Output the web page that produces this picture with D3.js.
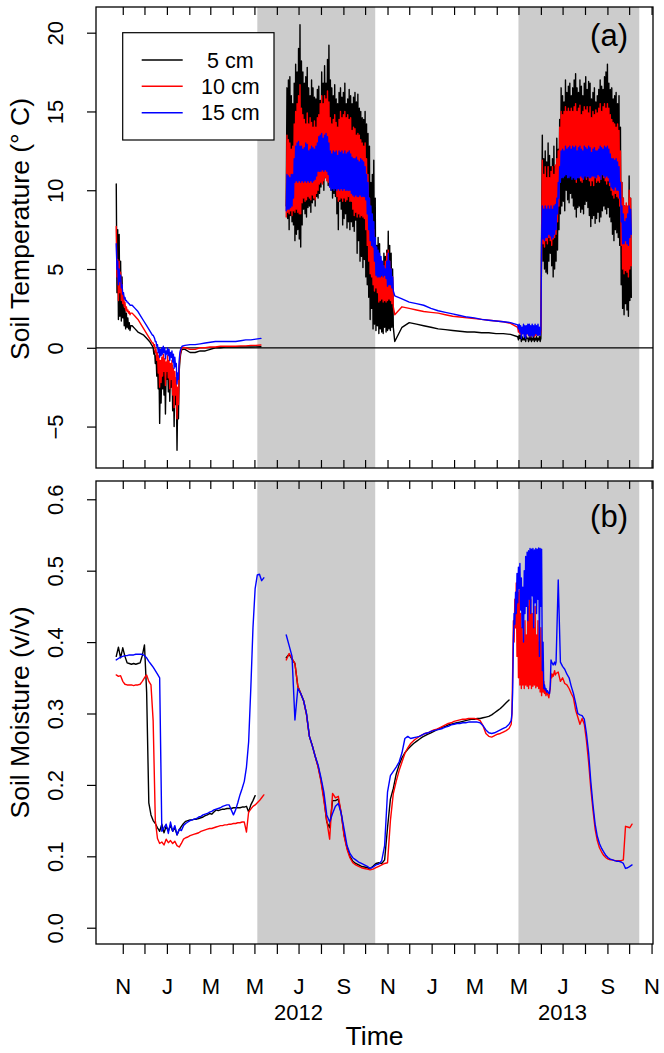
<!DOCTYPE html>
<html><head><meta charset="utf-8">
<script src="https://cdn.jsdelivr.net/npm/d3@7"></script>
<style>
html,body{margin:0;padding:0;background:#fff;}
svg{display:block;}
text{font-family:"Liberation Sans",Arial,Helvetica,sans-serif;fill:#000;}
</style></head><body>
<svg id="chart" width="664" height="1053"></svg>
<script>
// ---------------- DATA ----------------
const seriesLabels = [" 5 cm", "10 cm", "15 cm"];
const seriesColors = ["#000000", "#ff0000", "#0000ff"];
const shadeStart = ["2012-05-05", "2013-05-01"];
const shadeEnd = ["2012-10-15", "2013-10-15"];
const tempTicks = [-5, 0, 5, 10, 15, 20];
const moistTicks = [0, 0.1, 0.2, 0.3, 0.4, 0.5, 0.6];
const monthTickFirst = "2011-11-01";
const monthTickLast = "2013-11-01";
const yearLabels = ["2012", "2013"];
const yearLabelDates = ["2012-07-01", "2013-07-01"];

// Temperature: segment start dates and sampling step (days); line break before segment 4
const tempSegStart = ["2011-10-23", "2011-11-14", "2011-12-13", "2012-01-26", "2012-06-14", "2012-11-11", "2013-05-01"];
const tempSegStep = [1, 4, 1, 7, 1, 10, 1];
const tempBreakBefore = [4];

const temp5 = [
  [10.4,3.5,7.5,1.8,7.2,2.0,5.5,1.7,4.5,1.9,3.2,1.4,2.5,1.2,2.2,1.3,1.9,1.2,1.6,1.1,1.4],
  [1.4,1.2,1.0,0.9,0.8,0.6,0.4,0.1],
  [0.0,-0.4,-0.2,-1.0,-0.5,-1.8,-0.8,-2.6,-1.0,-4.8,-1.5,-3.5,-1.2,-2.6,-0.9,-3.0,-1.0,-4.2,-1.3,-2.0,-0.8,-2.8,-1.2,-3.4,-1.6,-2.5,-1.1,-4.0,-1.8,-5.0,-2.0,-3.6,-2.4,-6.5,-3.0,-4.5,-1.5,-0.8,-0.4,-0.2,-0.1],
  [-0.1,-0.3,-0.3,-0.2,-0.2,-0.1,0.0,0.0,0.05,0.05,0.05,0.05,0.05,0.05,0.06,0.07],
  [9.0,16.5,8.2,17.0,7.5,17.2,8.4,16.0,8.0,15.5,
   7.8,16.8,6.8,18.0,7.2,17.5,7.5,19.0,6.9,20.5,
   6.4,18.2,7.8,17.5,8.8,16.8,8.5,17.2,8.3,17.8,
   8.9,16.5,9.0,16.0,8.6,17.0,9.2,16.5,9.4,15.9,
   9.0,15.8,9.6,16.4,9.5,16.6,9.8,15.7,10.2,17.5,
   10.5,16.8,10.0,17.9,10.8,16.8,11.0,18.3,10.3,19.2,
   10.3,17.0,10.0,16.5,9.5,16.0,9.8,16.7,9.6,15.8,
   8.5,15.5,7.5,16.2,9.3,16.5,8.8,15.9,7.8,16.2,
   8.2,16.8,8.5,15.5,7.6,15.8,8.0,16.4,7.5,16.0,
   8.0,15.5,7.7,15.9,7.4,16.2,8.1,15.6,6.0,16.1,
   6.8,15.2,5.5,15.0,5.8,14.6,5.1,14.5,5.6,15.0,
   4.5,14.2,4.0,13.6,3.2,12.8,1.8,10.5,2.5,11.0,
   1.2,11.9,1.5,9.5,1.1,6.5,1.4,7.0,0.9,6.6,
   1.2,5.5,1.0,5.0,0.9,6.0,1.3,5.8,1.0,6.2,
   1.1,7.4,1.2,6.5,1.1,6.0,1.3,5.0,1.3],
  [0.4,1.3,1.6,1.5,1.4,1.3,1.2,1.15,1.1,1.05,1.0,1.0,0.95,0.95,0.9,0.9,0.85,0.7],
  [0.5,0.8,0.6,0.8,0.4,0.7,0.5,0.6,0.5,0.8,
   0.4,0.7,0.6,0.6,0.4,0.7,0.5,0.8,0.4,0.6,
   0.5,0.7,0.4,0.6,0.5,0.7,0.4,0.6,0.5,0.7,
   0.4,0.6,7.0,13.5,5.5,12.0,5.0,12.5,4.8,11.8,
   4.7,13.0,5.5,12.2,6.0,11.5,5.2,12.0,4.5,12.8,
   5.0,11.5,5.5,13.3,6.2,12.6,7.5,14.5,8.5,16.5,
   9.0,16.0,9.3,15.6,8.7,17.0,10.0,16.2,9.4,16.6,
   9.2,16.8,9.8,16.0,9.5,16.5,9.0,17.0,8.8,17.4,
   8.3,16.5,8.9,16.2,9.0,17.0,8.6,16.6,8.8,16.0,
   8.5,16.8,9.1,17.2,9.3,16.4,8.9,16.9,8.4,16.8,
   7.7,15.8,8.2,16.2,8.4,16.5,7.9,15.6,8.2,16.0,
   8.6,16.4,8.0,17.0,8.3,16.6,8.7,16.4,9.0,17.2,
   8.8,17.5,8.5,18.0,8.9,16.8,8.3,16.4,8.0,16.5,
   7.2,15.8,6.8,16.0,7.5,16.2,7.3,15.5,7.0,16.0,
   6.5,14.0,4.0,10.5,2.5,9.5,2.1,9.0,2.8,8.0,
   2.4,8.5,2.0,10.9,3.0,9.5,3.2]
];
const temp10 = [
  [7.7,4.5,5.6,3.0,5.5,3.5,4.8,3.0,4.0,2.8,3.3,2.6,2.9,2.4,2.6,2.3,2.4,2.2,2.3,2.1,2.2],
  [2.2,2.0,1.8,1.5,1.2,0.9,0.6,0.3],
  [0.3,0.1,0.2,-0.3,-0.1,-0.8,-0.3,-1.6,-0.5,-2.5,-0.8,-2.2,-0.6,-1.8,-0.4,-1.5,-0.7,-2.4,-0.9,-1.5,-0.5,-1.9,-0.8,-2.6,-1.0,-2.0,-0.8,-3.0,-1.3,-3.8,-1.5,-3.0,-1.9,-4.5,-2.5,-3.6,-1.2,-0.6,-0.3,-0.1,0.0],
  [0.0,-0.1,-0.1,0.0,0.0,0.05,0.05,0.1,0.1,0.1,0.1,0.12,0.12,0.15,0.15,0.18],
  [8.3,13.5,8.6,13.2,8.5,13.0,8.7,12.6,8.4,12.8,
   8.7,14.2,8.6,15.0,8.8,15.5,8.6,16.0,8.5,16.7,
   8.5,15.2,9.2,14.8,9.5,14.5,9.3,14.2,9.4,14.9,
   9.6,14.2,9.5,14.6,9.4,14.3,9.7,14.0,9.5,14.4,
   9.4,14.0,9.8,14.6,10.0,14.8,10.4,15.5,10.5,16.0,
   10.4,15.5,10.6,16.0,10.8,15.8,10.6,16.3,10.5,15.6,
   10.2,14.6,10.3,14.2,10.2,14.5,10.4,14.8,10.2,14.3,
   9.6,14.0,9.3,14.5,9.4,15.0,9.5,14.6,9.3,14.8,
   9.5,15.0,9.3,14.6,9.4,14.8,9.6,14.5,9.3,14.6,
   9.3,13.8,8.8,14.0,8.4,13.9,8.6,13.5,8.3,13.6,
   8.5,13.5,8.3,13.2,8.4,13.0,8.3,12.8,8.2,13.0,
   7.5,12.0,6.5,11.0,5.5,9.5,4.7,8.5,4.5,8.0,
   4.0,7.5,3.6,6.6,3.8,5.5,3.5,5.8,2.9,5.0,
   3.0,4.5,3.1,4.8,2.9,5.2,3.0,5.5,2.9,6.0,
   3.0,6.2,3.1,5.5,3.0,5.0,2.8,4.5,2.6],
  [2.1,2.6,2.5,2.4,2.3,2.25,2.2,2.1,2.0,1.95,1.9,1.85,1.8,1.75,1.7,1.65,1.55,1.3],
  [1.0,1.3,0.9,1.2,0.8,1.2,0.9,1.1,0.9,1.3,
   0.7,1.1,0.9,1.2,0.8,1.2,0.7,1.1,0.8,1.2,
   0.8,1.1,0.7,1.2,0.8,1.1,0.8,1.2,0.9,1.1,
   0.8,1.0,6.5,11.9,6.6,11.0,6.4,11.5,6.8,10.8,
   6.6,11.5,7.0,10.8,6.8,11.2,6.5,11.5,6.9,11.0,
   7.0,11.6,7.2,12.0,8.0,12.5,9.0,14.0,11.0,15.0,
   12.0,14.8,12.1,15.0,12.0,15.3,12.2,15.0,12.0,15.2,
   12.1,15.0,11.8,15.2,11.5,15.0,11.2,15.3,11.0,15.5,
   10.5,15.0,11.0,15.2,10.8,15.4,10.6,14.8,10.5,15.0,
   10.8,15.3,11.0,15.1,10.7,15.3,10.9,14.9,10.6,15.3,
   10.3,14.6,10.6,15.0,10.3,14.8,10.8,15.1,10.5,14.9,
   10.6,15.2,10.5,15.5,10.7,15.0,11.0,15.3,10.8,15.5,
   10.6,15.2,10.4,15.5,10.6,15.2,10.3,14.8,10.0,14.5,
   9.7,14.3,9.5,14.2,9.8,14.0,9.6,14.2,9.5,13.8,
   9.0,12.5,6.5,10.5,5.0,9.5,4.7,9.0,4.9,9.2,
   4.8,9.0,4.5,10.0,5.0,9.5,5.2]
];
const temp15 = [
  [6.6,5.0,5.5,4.0,5.0,4.2,4.6,3.8,4.0,3.4,3.5,3.1,3.2,3.0,3.0,2.9,2.9,2.8,2.8,2.7,2.7],
  [2.7,2.5,2.3,2.0,1.7,1.4,1.1,0.8],
  [0.8,0.7,0.6,0.4,0.4,0.1,0.2,-0.3,0.0,-0.6,-0.1,-0.5,0.0,-0.4,0.1,-0.3,0.0,-0.7,-0.2,-0.4,0.0,-0.5,-0.1,-0.8,-0.3,-0.6,-0.2,-0.9,-0.4,-1.3,-0.6,-1.2,-1.0,-2.3,-1.6,-2.0,-0.8,-0.3,-0.1,0.0,0.1],
  [0.15,0.2,0.2,0.25,0.3,0.35,0.4,0.4,0.4,0.4,0.4,0.45,0.5,0.5,0.55,0.6],
  [8.7,11.0,8.8,10.9,8.8,10.8,8.9,11.0,9.0,11.0,
   9.5,12.0,10.5,12.8,10.6,13.0,10.5,13.1,10.6,12.8,
   10.5,12.8,10.6,12.6,10.5,12.7,10.6,13.0,10.5,12.9,
   10.6,12.5,10.5,12.6,10.6,12.8,10.5,12.7,10.6,12.6,
   10.7,12.8,10.9,13.0,11.2,13.4,11.2,13.5,11.2,13.6,
   11.3,13.3,11.2,13.5,11.3,13.6,11.2,13.4,11.0,13.0,
   10.2,12.5,10.0,12.3,10.1,12.5,10.0,12.4,10.1,12.5,
   10.0,12.2,10.1,12.5,10.0,12.4,10.1,12.5,10.0,12.3,
   10.1,12.5,10.0,12.3,10.0,12.4,10.0,12.5,10.0,12.3,
   9.8,12.1,9.7,12.0,9.6,12.0,9.7,12.1,9.6,11.9,
   9.6,11.8,9.7,12.0,9.6,11.9,9.6,11.8,9.6,11.5,
   9.4,11.0,8.5,10.5,7.5,9.5,6.8,9.0,6.5,8.5,
   6.4,8.0,5.5,7.0,4.6,6.4,4.5,6.2,4.5,6.0,
   4.5,5.8,4.6,5.5,4.5,5.2,4.6,5.0,4.4,5.5,
   3.9,6.0,4.0,5.5,4.0,5.0,3.8,4.5,3.6],
  [3.3,3.1,2.9,2.8,2.7,2.5,2.35,2.25,2.15,2.05,1.95,1.9,1.8,1.75,1.7,1.65,1.6,1.45],
  [1.2,1.5,1.0,1.4,0.6,1.3,0.9,1.5,0.7,1.4,
   0.6,1.4,0.9,1.5,0.8,1.5,0.7,1.4,0.8,1.5,
   0.7,1.4,0.8,1.5,0.9,1.4,0.8,1.5,0.8,1.3,
   0.8,1.2,6.8,9.0,6.9,8.8,6.8,9.0,7.0,8.8,
   7.0,9.0,7.2,8.8,7.1,9.0,6.9,8.8,7.0,9.0,
   7.2,9.1,7.5,9.5,8.5,10.5,9.5,11.5,10.5,12.5,
   10.8,12.6,10.8,12.5,10.9,12.8,11.0,12.6,10.8,12.7,
   10.8,12.8,10.9,12.6,10.7,12.8,10.8,12.7,10.7,12.8,
   10.7,12.5,10.8,12.7,10.8,12.8,10.9,12.6,10.8,12.5,
   10.7,12.8,10.9,12.7,10.8,12.6,10.9,12.8,10.8,12.7,
   10.8,12.4,10.9,12.6,10.9,12.7,10.8,12.5,10.8,12.5,
   11.0,12.6,10.9,12.8,10.7,12.7,11.0,12.6,10.9,12.8,
   10.8,12.7,10.9,12.8,10.8,12.6,10.5,12.3,10.2,12.0,
   10.1,12.0,10.0,11.9,10.2,12.0,10.0,11.8,10.0,11.5,
   9.5,10.5,8.0,9.0,6.6,8.5,6.6,8.0,6.8,8.2,
   6.6,8.5,6.5,9.0,7.0,8.8,7.2]
];

// Moisture: segment start dates and sampling step (days); line break before segment 1
const moistSegStart = ["2011-10-23", "2012-06-14", "2013-04-21", "2013-06-22"];
const moistSegStep = [3, 4, 1, 3];
const moistBreakBefore = [1];

const moist5 = [
  [0.380,0.393,0.378,0.392,0.380,0.371,0.370,0.369,0.370,0.369,
   0.370,0.371,0.381,0.396,0.330,0.175,0.158,0.150,0.146,0.140,
   0.135,0.145,0.133,0.142,0.136,0.143,0.135,0.140,0.130,0.137,
   0.142,0.146,0.149,0.150,0.151,0.151,0.152,0.152,0.153,0.154,
   0.155,0.157,0.158,0.160,0.159,0.162,0.165,0.164,0.165,0.166,
   0.166,0.167,0.167,0.167,0.168,0.168,0.168,0.168,0.169,0.169,
   0.170,0.162,0.172,0.178,0.185],
  [0.378,0.383,0.376,0.370,0.338,0.328,0.318,0.299,0.268,0.255,
   0.240,0.226,0.207,0.182,0.148,0.140,0.178,0.178,0.180,0.160,
   0.130,0.112,0.100,0.093,0.090,0.088,0.086,0.085,0.084,0.083,
   0.086,0.090,0.091,0.090,0.095,0.140,0.180,0.195,0.215,0.228,
   0.238,0.245,0.250,0.254,0.258,0.261,0.264,0.267,0.269,0.271,
   0.273,0.275,0.277,0.279,0.281,0.282,0.284,0.285,0.286,0.287,
   0.288,0.289,0.290,0.291,0.292,0.292,0.293,0.293,0.294,0.295,
   0.296,0.298,0.301,0.304,0.307,0.311,0.315,0.319],
  [],
  []
];
const moist10 = [
  [0.354,0.352,0.353,0.345,0.341,0.340,0.340,0.340,0.339,0.340,
   0.340,0.341,0.345,0.350,0.354,0.345,0.340,0.290,0.150,0.125,
   0.118,0.120,0.116,0.124,0.119,0.122,0.118,0.121,0.115,0.113,
   0.118,0.124,0.126,0.127,0.129,0.130,0.131,0.132,0.133,0.135,
   0.136,0.137,0.138,0.139,0.139,0.140,0.141,0.142,0.143,0.143,
   0.144,0.144,0.145,0.145,0.146,0.146,0.147,0.147,0.148,0.148,
   0.134,0.162,0.166,0.170,0.172,0.175,0.178,0.182,0.186],
  [0.375,0.384,0.377,0.370,0.338,0.328,0.318,0.298,0.268,0.255,
   0.240,0.225,0.205,0.178,0.150,0.124,0.188,0.182,0.184,0.160,
   0.128,0.110,0.098,0.091,0.088,0.086,0.084,0.083,0.082,0.081,
   0.082,0.084,0.086,0.088,0.090,0.091,0.150,0.188,0.205,0.220,
   0.232,0.244,0.252,0.258,0.262,0.265,0.268,0.270,0.272,0.273,
   0.275,0.277,0.278,0.280,0.282,0.284,0.286,0.287,0.289,0.290,
   0.291,0.292,0.292,0.293,0.293,0.293,0.292,0.290,0.283,0.272,
   0.268,0.267,0.269,0.271,0.272,0.274,0.276,0.279],
  [0.285,0.300,0.360,0.430,0.400,0.460,0.420,0.483,0.380,0.470,
   0.350,0.473,0.340,0.440,0.335,0.420,0.340,0.400,0.335,0.430,
   0.340,0.410,0.338,0.450,0.335,0.470,0.340,0.460,0.335,0.440,
   0.338,0.420,0.340,0.450,0.336,0.410,0.338,0.430,0.335,0.400,
   0.330,0.420,0.325,0.360,0.330,0.345,0.328,0.335,0.325,0.330,
   0.328,0.325,0.322,0.330,0.335,0.356,0.350,0.355,0.352,0.356,
   0.360,0.354],
  [0.356,0.358,0.345,0.350,0.342,0.340,0.335,0.328,0.322,0.305,
   0.295,0.285,0.293,0.285,0.262,0.232,0.195,0.165,0.138,0.122,
   0.112,0.106,0.101,0.098,0.096,0.095,0.095,0.094,0.094,0.094,
   0.094,0.095,0.142,0.141,0.140,0.145]
];
const moist15 = [
  [0.375,0.377,0.379,0.380,0.381,0.381,0.382,0.382,0.382,0.383,
   0.383,0.383,0.383,0.381,0.378,0.373,0.369,0.365,0.360,0.355,
   0.350,0.135,0.140,0.145,0.132,0.148,0.135,0.143,0.130,0.138,
   0.136,0.143,0.146,0.148,0.150,0.151,0.152,0.153,0.155,0.156,
   0.158,0.159,0.160,0.162,0.163,0.165,0.166,0.167,0.168,0.170,
   0.171,0.172,0.172,0.165,0.158,0.165,0.175,0.186,0.195,0.205,
   0.225,0.260,0.335,0.420,0.475,0.494,0.495,0.486,0.490],
  [0.410,0.395,0.380,0.291,0.335,0.328,0.318,0.300,0.268,0.255,
   0.240,0.228,0.210,0.190,0.158,0.148,0.160,0.170,0.174,0.160,
   0.138,0.115,0.104,0.098,0.095,0.092,0.090,0.088,0.086,0.083,
   0.085,0.088,0.089,0.094,0.115,0.190,0.213,0.219,0.225,0.232,
   0.245,0.265,0.268,0.265,0.266,0.267,0.268,0.270,0.272,0.273,
   0.275,0.276,0.277,0.278,0.279,0.281,0.282,0.284,0.285,0.286,
   0.286,0.287,0.287,0.288,0.288,0.288,0.288,0.287,0.283,0.277,
   0.273,0.272,0.273,0.275,0.277,0.279,0.281,0.285],
  [0.290,0.300,0.330,0.400,0.440,0.425,0.470,0.440,0.496,0.455,
   0.505,0.475,0.510,0.445,0.490,0.420,0.477,0.400,0.500,0.440,
   0.520,0.450,0.526,0.430,0.528,0.460,0.531,0.440,0.530,0.465,
   0.531,0.420,0.529,0.455,0.531,0.440,0.530,0.460,0.532,0.380,
   0.531,0.450,0.530,0.360,0.400,0.335,0.340,0.333,0.335,0.330,
   0.332,0.330,0.328,0.328,0.340,0.375,0.372,0.370,0.368,0.370,
   0.372,0.368],
  [0.372,0.487,0.372,0.366,0.362,0.355,0.350,0.338,0.328,0.315,
   0.300,0.298,0.297,0.292,0.272,0.245,0.205,0.172,0.145,0.128,
   0.118,0.111,0.106,0.101,0.098,0.096,0.095,0.094,0.093,0.093,
   0.092,0.090,0.083,0.084,0.086,0.088]
];

// ---------------- CHART ----------------
const FONT = '"Liberation Sans", Arial, Helvetica, sans-serif';
const left = 96, right = 653;
const pA = {top: 7, bottom: 468};
const pB = {top: 481, bottom: 944};
const parse = d3.utcParse("%Y-%m-%d");

const x = d3.scaleUtc().domain([parse("2011-09-25"), parse("2013-11-03")]).range([left, right]);
const yA = d3.scaleLinear().domain([-7.63, 21.63]).range([pA.bottom, pA.top]);
const yB = d3.scaleLinear().domain([-0.0228, 0.6256]).range([pB.bottom, pB.top]);

const svg = d3.select("#chart");
svg.append("rect").attr("width", 664).attr("height", 1053).attr("fill", "#fff");

function buildGroups(segs, starts, steps, breaks) {
  const groups = []; let cur = [];
  segs.forEach((vals, s) => {
    if (breaks.includes(s) && cur.length) { groups.push(cur); cur = []; }
    const st = parse(starts[s]);
    vals.forEach((v, i) => cur.push({date: d3.utcDay.offset(st, i * steps[s]), v: v}));
  });
  if (cur.length) groups.push(cur);
  return groups;
}

const monthTicks = d3.utcMonth.range(parse(monthTickFirst), d3.utcDay.offset(parse(monthTickLast), 1));

function panel(p, y, ticks, fmt, seriesList, starts, steps, breaks, zeroLine, label, labelY) {
  const g = svg.append("g");
  shadeStart.forEach((s, i) => {
    g.append("rect")
      .attr("x", x(parse(s))).attr("y", p.top)
      .attr("width", x(parse(shadeEnd[i])) - x(parse(s)))
      .attr("height", p.bottom - p.top)
      .attr("fill", "#cccccc");
  });
  if (zeroLine) {
    g.append("line").attr("x1", left).attr("x2", right)
      .attr("y1", y(0)).attr("y2", y(0))
      .attr("stroke", "#000").attr("stroke-width", 1.2);
  }
  const line = d3.line().x(d => x(d.date)).y(d => y(d.v));
  seriesList.forEach((segs, k) => {
    buildGroups(segs, starts, steps, breaks).forEach(grp => {
      g.append("path").datum(grp).attr("d", line)
        .attr("fill", "none").attr("stroke", seriesColors[k])
        .attr("stroke-width", 1.4).attr("stroke-linejoin", "round").attr("stroke-linecap", "round");
    });
  });
  const ya = g.append("g").attr("transform", `translate(${left},0)`)
    .call(d3.axisLeft(y).tickValues(ticks).tickSize(9).tickSizeOuter(0).tickFormat(fmt));
  ya.select(".domain").remove();
  ya.selectAll(".tick line").attr("stroke-width", 1.2);
  ya.selectAll(".tick text")
    .attr("x", null).attr("dy", null).attr("text-anchor", "middle")
    .attr("transform", "translate(-33,0) rotate(-90)")
    .style("font-size", "22px").style("font-family", FONT);
  const xt = g.append("g").attr("transform", `translate(0,${p.top})`)
    .call(d3.axisBottom(x).tickValues(monthTicks).tickSize(8).tickSizeOuter(0).tickFormat(""));
  xt.select(".domain").remove();
  xt.selectAll(".tick line").attr("stroke-width", 1.2);
  g.append("rect").attr("x", left).attr("y", p.top)
    .attr("width", right - left).attr("height", p.bottom - p.top)
    .attr("fill", "none").attr("stroke", "#000").attr("stroke-width", 1.3);
  g.append("text").attr("x", 628).attr("y", labelY).attr("text-anchor", "end")
    .style("font-size", "31px").text(label);
  return g;
}

// Panel (a)
const gA = panel(pA, yA, tempTicks, d3.format("d"), [temp5, temp10, temp15],
  tempSegStart, tempSegStep, tempBreakBefore, true, "(a)", 46);
const xbA = gA.append("g").attr("transform", `translate(0,${pA.bottom})`)
  .call(d3.axisTop(x).tickValues(monthTicks).tickSize(8).tickSizeOuter(0).tickFormat(""));
xbA.select(".domain").remove();
xbA.selectAll(".tick line").attr("stroke-width", 1.2);

// Panel (b)
const gB = panel(pB, yB, moistTicks, d3.format(".1f"), [moist5, moist10, moist15],
  moistSegStart, moistSegStep, moistBreakBefore, false, "(b)", 527);
const xbB = gB.append("g").attr("transform", `translate(0,${pB.bottom})`)
  .call(d3.axisBottom(x).tickValues(monthTicks).tickSize(10).tickSizeOuter(0)
    .tickFormat(d => (d.getUTCMonth() % 2 === 0) ? d3.utcFormat("%b")(d).charAt(0) : ""));
xbB.select(".domain").remove();
xbB.selectAll(".tick line").attr("stroke-width", 1.2);
xbB.selectAll(".tick text").attr("y", 49.5).attr("dy", null)
  .style("font-size", "22px").style("font-family", FONT);

svg.selectAll(".yearLabel").data(yearLabels).enter().append("text")
  .attr("x", (d, i) => x(parse(yearLabelDates[i]))).attr("y", 1019.5)
  .attr("text-anchor", "middle").style("font-size", "22px").text(d => d);

svg.append("text").attr("x", 374.5).attr("y", 1045).attr("text-anchor", "middle")
  .style("font-size", "26.5px").text("Time");
svg.append("text").attr("transform", "translate(29,229) rotate(-90)").attr("text-anchor", "middle")
  .style("font-size", "26.5px").text("Soil Temperature (\u00B0 C)");
svg.append("text").attr("transform", `translate(29,${(pB.top + pB.bottom) / 2}) rotate(-90)`).attr("text-anchor", "middle")
  .style("font-size", "26.5px").text("Soil Moisture (v/v)");

const lg = svg.append("g");
lg.append("rect").attr("x", 122.7).attr("y", 32.7).attr("width", 151.3).attr("height", 107.3)
  .attr("fill", "#fff").attr("stroke", "#000").attr("stroke-width", 1.2);
const legY = [60, 86.3, 112.7];
seriesLabels.forEach((lab, i) => {
  lg.append("line").attr("x1", 141.7).attr("x2", 182.7).attr("y1", legY[i]).attr("y2", legY[i])
    .attr("stroke", seriesColors[i]).attr("stroke-width", 1.4);
  lg.append("text").attr("x", 201).attr("y", legY[i] + 7.7)
    .attr("xml:space", "preserve").style("white-space", "pre")
    .style("font-size", "21.5px").text(lab);
});
</script>
</body></html>
